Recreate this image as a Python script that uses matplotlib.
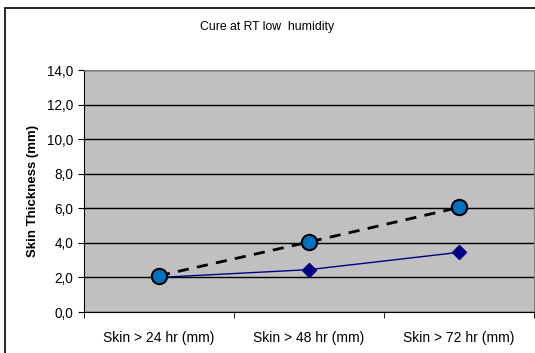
import matplotlib
matplotlib.use('Agg')
from matplotlib import pyplot as plt
from matplotlib.patches import Rectangle

plt.rcParams['font.family'] = ['Liberation Sans', 'DejaVu Sans']

# data
categories = ['Skin > 24 hr (mm)', 'Skin > 48 hr (mm)', 'Skin > 72 hr (mm)']
dashed_vals = [2.1, 4.05, 6.05]
solid_vals = [2.0, 2.45, 3.45]
yticks = [0, 2, 4, 6, 8, 10, 12, 14]
ytick_labels = ['0,0', '2,0', '4,0', '6,0', '8,0', '10,0', '12,0', '14,0']

fig = plt.figure(figsize=(5.35, 3.53), dpi=100)

# outer chart frame (right and bottom edges run off the image)
fig.patches.append(Rectangle((5 / 535, -0.1), 1.2, 1 - 8 / 353 + 0.1,
                             transform=fig.transFigure, fill=False,
                             edgecolor='black', linewidth=1.2))

ax = fig.add_axes([84 / 535, 1 - 312 / 353, 450 / 535, 242 / 353])
ax.set_facecolor('#c0c0c0')

x = list(range(len(categories)))
ax.plot(x, solid_vals, color='#000080', linewidth=1, marker='D',
        markersize=7, markerfacecolor='#000080', markeredgecolor='#000080', zorder=3)
ax.plot(x, dashed_vals, color='black', linewidth=2, linestyle=(0, (4, 3)),
        marker='o', markersize=11, markerfacecolor='#0070c0',
        markeredgecolor='black', markeredgewidth=1.5, zorder=4)

ax.set_xlim(-0.5, 2.5)
ax.set_ylim(0, 14)
ax.set_yticks(yticks)
ax.set_yticklabels(ytick_labels, fontsize=9.8)
ax.set_xticks(x)
ax.set_xticklabels(categories, fontsize=10)
ax.set_xticks([-0.5, 0.5, 1.5, 2.5], minor=True)
ax.tick_params(axis='x', which='major', length=0, pad=14)
ax.tick_params(axis='x', which='minor', length=4, direction='out')
ax.tick_params(axis='y', length=4, direction='out')
ax.yaxis.grid(True, color='black', linewidth=1)
ax.set_axisbelow(True)

ax.spines['top'].set_color('#808080')
ax.spines['right'].set_color('#808080')
ax.spines['left'].set_color('black')
ax.spines['bottom'].set_color('black')

ax.set_ylabel('Skin Thickness (mm)', fontsize=9.5, fontweight='bold', labelpad=6)

fig.text(267 / 535, 1 - 27 / 353, 'Cure at RT low  humidity', ha='center',
         va='center', fontsize=8.8)

fig.savefig('out.png', dpi=100)
